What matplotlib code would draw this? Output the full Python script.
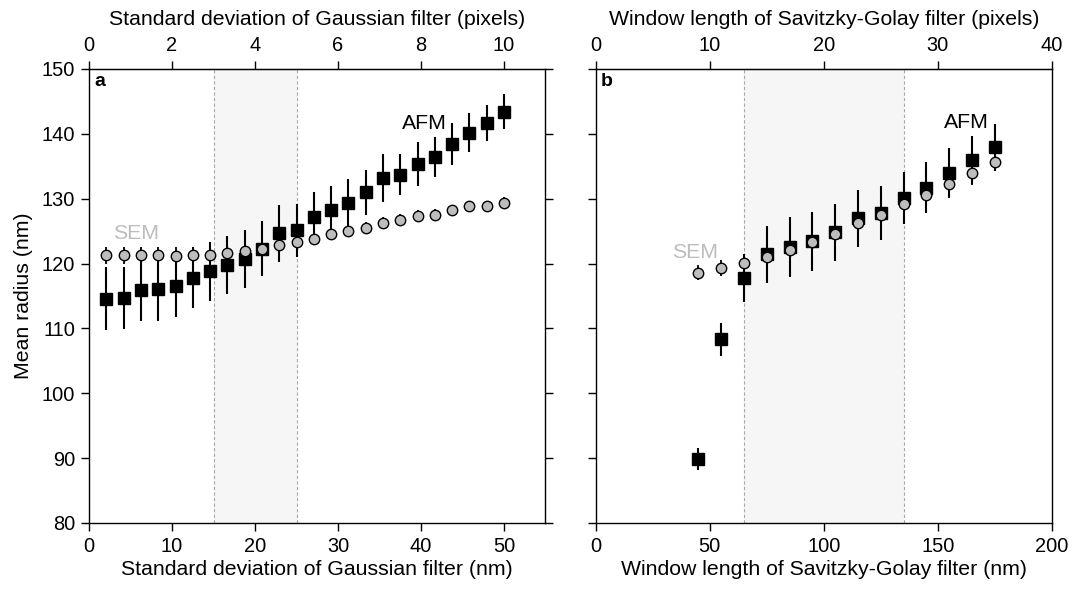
import matplotlib.pyplot as plt

plt.rcParams['font.family'] = ['Liberation Sans', 'DejaVu Sans']

# (a) Gaussian filter sweep, sigma in nm (5 nm per pixel)
sigma_nm = [2.08, 4.17, 6.25, 8.33, 10.42, 12.50, 14.58, 16.67, 18.75, 20.83,
            22.92, 25.00, 27.08, 29.17, 31.25, 33.33, 35.42, 37.50, 39.58,
            41.67, 43.75, 45.83, 47.92, 50.00]
afm_a = [114.6, 114.7, 115.9, 116.0, 116.5, 117.8, 118.8, 119.8, 120.7, 122.3,
         124.7, 125.1, 127.2, 128.2, 129.3, 131.0, 133.2, 133.7, 135.4, 136.4,
         138.4, 140.2, 141.7, 143.4]
afm_a_err = [4.9, 4.8, 4.7, 4.8, 4.8, 4.7, 4.5, 4.5, 4.5, 4.2, 4.4, 4.1,
             3.8, 3.8, 3.7, 3.5, 3.7, 3.2, 3.4, 3.1, 3.2, 3.0, 2.8, 2.7]
sem_a = [121.3, 121.3, 121.3, 121.3, 121.2, 121.3, 121.3, 121.7, 122.0, 122.3,
         122.8, 123.3, 123.8, 124.6, 125.0, 125.5, 126.3, 126.7, 127.4, 127.5,
         128.2, 128.8, 128.8, 129.4]
sem_a_err = [1.3, 1.3, 1.3, 1.3, 1.3, 1.3, 1.3, 1.2, 1.2, 1.1, 1.1, 1.0,
             1.0, 0.9, 0.9, 0.9, 0.9, 0.9, 0.9, 0.9, 0.9, 0.9, 0.9, 0.9]

# (b) Savitzky-Golay window sweep, window in nm
window_nm = [45, 55, 65, 75, 85, 95, 105, 115, 125, 135, 145, 155, 165, 175]
afm_b = [89.9, 108.3, 117.8, 121.4, 122.5, 123.4, 124.8, 127.0, 127.8, 130.1,
         131.7, 134.0, 136.0, 137.9]
afm_b_err = [1.7, 2.5, 3.7, 4.4, 4.6, 4.5, 4.4, 4.4, 4.2, 4.0, 3.9, 3.8, 3.7, 3.6]
sem_b = [118.6, 119.3, 120.1, 121.0, 122.1, 123.3, 124.5, 126.2, 127.5, 129.2,
         130.6, 132.3, 133.9, 135.6]
sem_b_err = [1.1, 1.2, 1.3, 1.5, 1.5, 1.5, 1.5, 1.6, 1.7, 1.8, 2.0, 2.2, 1.8, 1.2]

NM_PER_PIXEL = 5.0
SHADE_A = (15, 25)
SHADE_B = (65, 135)

TICK_FS = 14.4
LABEL_FS = 15.3
SEM_GREY = '#bdbdbd'

fig = plt.figure(figsize=(10.74, 5.89), dpi=100)
ax_a = fig.add_axes([0.0829, 0.1121, 0.4250, 0.7708])
ax_b = fig.add_axes([0.5547, 0.1121, 0.4246, 0.7708])


def draw_panel(ax, x, afm, afm_err, sem, sem_err, shade):
    ax.axvspan(shade[0], shade[1], color='#f6f6f6', zorder=0, lw=0)
    for xv in shade:
        ax.axvline(xv, color='#a8a8a8', lw=0.8, ls=(0, (3, 2)), zorder=0.5)
    ax.errorbar(x, afm, yerr=afm_err, fmt='s', ms=8.6, mfc='black', mec='black',
                ecolor='black', elinewidth=1.5, capsize=0, zorder=2)
    ax.errorbar(x, sem, yerr=sem_err, fmt='o', ms=7.5, mfc=SEM_GREY, mec='black',
                mew=1.0, ecolor='black', elinewidth=1.3, capsize=0, zorder=3)
    ax.set_ylim(80, 150)
    ax.set_yticks(range(80, 151, 10))
    for s in ax.spines.values():
        s.set_linewidth(1.0)
    ax.tick_params(direction='out', length=6, width=1.0, labelsize=TICK_FS, pad=4)


draw_panel(ax_a, sigma_nm, afm_a, afm_a_err, sem_a, sem_a_err, SHADE_A)
draw_panel(ax_b, window_nm, afm_b, afm_b_err, sem_b, sem_b_err, SHADE_B)

# panel a axes
ax_a.set_xlim(0, 55)
ax_a.set_xticks(range(0, 51, 10))
ax_a.tick_params(axis='y', right=True)
ax_a.set_ylabel('Mean radius (nm)', fontsize=LABEL_FS, labelpad=6)
ax_a.set_xlabel('Standard deviation of Gaussian filter (nm)', fontsize=LABEL_FS,
                labelpad=3)
top_a = ax_a.secondary_xaxis('top', functions=(lambda v: v / NM_PER_PIXEL,
                                               lambda v: v * NM_PER_PIXEL))
top_a.set_xticks(range(0, 11, 2))
top_a.tick_params(direction='out', length=6, width=1.0, labelsize=TICK_FS, pad=4)
top_a.set_xlabel('Standard deviation of Gaussian filter (pixels)',
                 fontsize=LABEL_FS, labelpad=8)

# panel b axes
ax_b.set_xlim(0, 200)
ax_b.set_xticks(range(0, 201, 50))
ax_b.tick_params(axis='y', labelleft=False)
ax_b.set_xlabel('Window length of Savitzky-Golay filter (nm)', fontsize=LABEL_FS,
                labelpad=3)
top_b = ax_b.secondary_xaxis('top', functions=(lambda v: v / NM_PER_PIXEL,
                                               lambda v: v * NM_PER_PIXEL))
top_b.set_xticks(range(0, 41, 10))
top_b.tick_params(direction='out', length=6, width=1.0, labelsize=TICK_FS, pad=4)
top_b.set_xlabel('Window length of Savitzky-Golay filter (pixels)',
                 fontsize=LABEL_FS, labelpad=8)

# series labels and panel letters
ax_a.text(5.7, 124.7, 'SEM', color=SEM_GREY, fontsize=LABEL_FS, ha='center', va='center')
ax_a.text(40.4, 141.6, 'AFM', color='black', fontsize=LABEL_FS, ha='center', va='center')
ax_b.text(43.5, 121.7, 'SEM', color=SEM_GREY, fontsize=LABEL_FS, ha='center', va='center')
ax_b.text(162.4, 141.7, 'AFM', color='black', fontsize=LABEL_FS, ha='center', va='center')

for ax, letter in ((ax_a, 'a'), (ax_b, 'b')):
    ax.text(0.011, 0.963, letter, transform=ax.transAxes, fontsize=14,
            fontweight='bold', ha='left', va='baseline')

fig.savefig('out.png', dpi=100)
